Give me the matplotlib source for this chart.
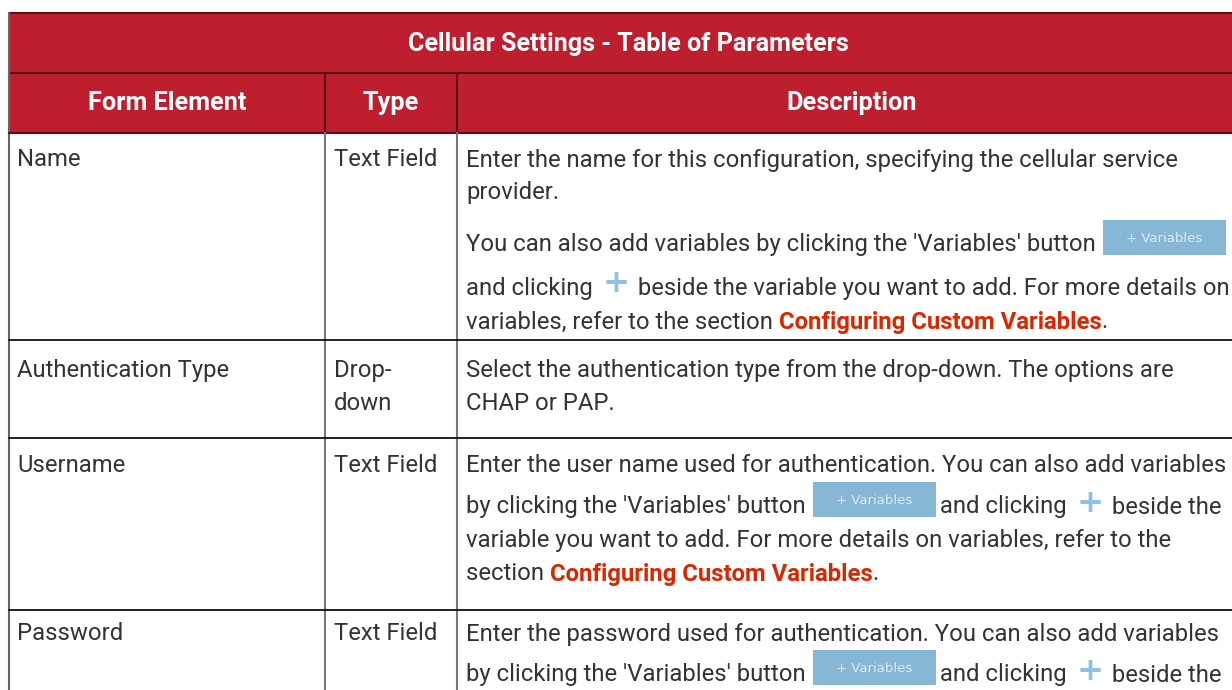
import matplotlib.pyplot as plt
from matplotlib.patches import Rectangle
from matplotlib import font_manager

title = "Cellular Settings - Table of Parameters"
headers = ["Form Element", "Type", "Description"]
form_elements = ["Name", "Authentication Type", "Username", "Password"]
types = [["Text Field"], ["Drop-", "down"], ["Text Field"], ["Text Field"]]

# description lines: each line is a list of (kind, text) pieces
descriptions = [
    [[("t", "Enter the name for this configuration, specifying the cellular service")],
     [("t", "provider.")],
     [("t", "You can also add variables by clicking the 'Variables' button "), ("btn", "+ Variables")],
     [("t", "and clicking "), ("plus", "+"), ("t", " beside the variable you want to add. For more details on")],
     [("t", "variables, refer to the section "), ("link", "Configuring Custom Variables"), ("t", ".")]],
    [[("t", "Select the authentication type from the drop-down. The options are")],
     [("t", "CHAP or PAP.")]],
    [[("t", "Enter the user name used for authentication. You can also add variables")],
     [("t", "by clicking the 'Variables' button "), ("btn", "+ Variables"), ("t", " and clicking "), ("plus", "+"), ("t", " beside the")],
     [("t", "variable you want to add. For more details on variables, refer to the")],
     [("t", "section "), ("link", "Configuring Custom Variables"), ("t", ".")]],
    [[("t", "Enter the password used for authentication. You can also add variables")],
     [("t", "by clicking the 'Variables' button "), ("btn", "+ Variables"), ("t", " and clicking "), ("plus", "+"), ("t", " beside the")]],
]

# layout in pixels
col_x = [9, 325, 457, 1247]
row_y = [13, 73, 133, 340, 438, 610, 720]
line_y = [[160, 192, 245, 288, 322], [371, 404], [465, 507, 541, 574], [634, 675]]

names = [f.name for f in font_manager.fontManager.ttflist]
FONT = "Liberation Sans Narrow" if "Liberation Sans Narrow" in names else "Roboto"
RED = "#BE1F2F"
TXT = "#333333"
FS = 17.2

fig = plt.figure(figsize=(12.32, 6.9), dpi=100)
ax = fig.add_axes([0, 0, 1, 1])
ax.set_xlim(0, 1232)
ax.set_ylim(690, 0)
ax.axis("off")

# header backgrounds
ax.add_patch(Rectangle((col_x[0], row_y[0]), col_x[-1] - col_x[0], row_y[2] - row_y[0],
                       facecolor=RED, edgecolor="none"))
ax.plot([col_x[0], col_x[-1]], [row_y[0], row_y[0]], color="#5a1015", lw=1.5)
ax.plot([col_x[0], col_x[-1]], [row_y[1], row_y[1]], color="#5a1015", lw=1.5)
for x in col_x[1:3]:
    ax.plot([x, x], [row_y[1], row_y[2]], color="#5a1015", lw=1.5)
ax.plot([col_x[0], col_x[0]], [row_y[0], row_y[-1]], color="#666666", lw=1.5)
ax.plot([col_x[0], col_x[-1]], [row_y[2], row_y[2]], color="#5a1015", lw=1.5)

ax.text((col_x[0] + col_x[-1]) / 2, (row_y[0] + row_y[1]) / 2 + 1, title, color="white",
        fontsize=FS + 0.9, fontweight="bold", family=FONT, ha="center", va="center")
for i, h in enumerate(headers):
    ax.text((col_x[i] + col_x[i + 1]) / 2, (row_y[1] + row_y[2]) / 2, h, color="white",
            fontsize=FS + 1, fontweight="bold", family=FONT, ha="center", va="center")

# body grid
for x in col_x[1:3]:
    ax.plot([x, x], [row_y[2], row_y[-1]], color="#777777", lw=1.5)
for y in row_y[3:6]:
    ax.plot([col_x[0], col_x[-1]], [y, y], color="#111111", lw=1.3)

fig.canvas.draw()
renderer = fig.canvas.get_renderer()

def width_px(t):
    bb = t.get_window_extent(renderer=renderer)
    return bb.width

for r in range(len(form_elements)):
    ly = line_y[r]
    ax.text(col_x[0] + 8, ly[0], form_elements[r], color=TXT, fontsize=FS, family=FONT, va="center")
    for k, tl in enumerate(types[r]):
        ax.text(col_x[1] + 9, ly[k], tl, color=TXT, fontsize=FS, family=FONT, va="center")
    for k, line in enumerate(descriptions[r]):
        x = col_x[2] + 9
        y = ly[k]
        for kind, s in line:
            if kind == "t":
                t = ax.text(x, y, s, color=TXT, fontsize=FS, family=FONT, va="center")
                x += width_px(t)
            elif kind == "link":
                t = ax.text(x, y, s, color="#D92800", fontsize=FS, family=FONT,
                            fontweight="bold", va="center")
                x += width_px(t)
            elif kind == "btn":
                w, h = 123, 35
                ax.add_patch(Rectangle((x + 1, y - 25), w, h, facecolor="#86B8D6", edgecolor="none"))
                ax.text(x + 1 + w / 2, y - 7, s, color="#DCEAF3", fontsize=9.5, family="DejaVu Sans",
                        ha="center", va="center")
                x += w
            elif kind == "plus":
                t = ax.text(x + 4, y - 4, s, color="#8CC3E0", fontsize=FS + 6, family="DejaVu Sans",
                            fontweight="bold", va="center")
                x += width_px(t) + 6

fig.savefig("out.png", dpi=100)
